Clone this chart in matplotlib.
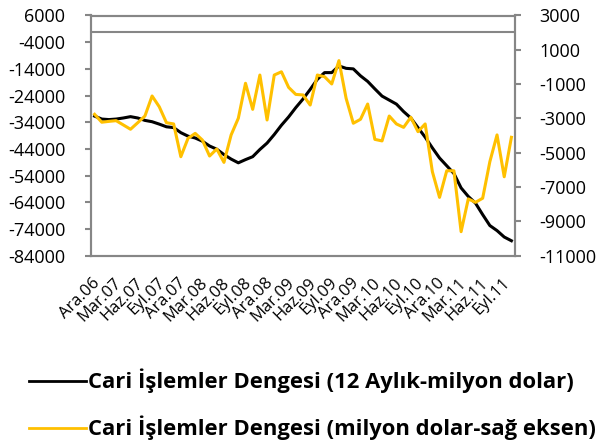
import matplotlib
matplotlib.use("Agg")
import matplotlib.pyplot as plt
from matplotlib.lines import Line2D
from matplotlib.transforms import ScaledTranslation

plt.rcParams['font.family'] = ['Open Sans', 'DejaVu Sans']

# monthly, Ara.06 .. Eki.11
months = ["Ara.06", "Oca.07", "Şub.07", "Mar.07", "Nis.07", "May.07", "Haz.07", "Tem.07",
          "Ağu.07", "Eyl.07", "Eki.07", "Kas.07", "Ara.07", "Oca.08", "Şub.08", "Mar.08",
          "Nis.08", "May.08", "Haz.08", "Tem.08", "Ağu.08", "Eyl.08", "Eki.08", "Kas.08",
          "Ara.08", "Oca.09", "Şub.09", "Mar.09", "Nis.09", "May.09", "Haz.09", "Tem.09",
          "Ağu.09", "Eyl.09", "Eki.09", "Kas.09", "Ara.09", "Oca.10", "Şub.10", "Mar.10",
          "Nis.10", "May.10", "Haz.10", "Tem.10", "Ağu.10", "Eyl.10", "Eki.10", "Kas.10",
          "Ara.10", "Oca.11", "Şub.11", "Mar.11", "Nis.11", "May.11", "Haz.11", "Tem.11",
          "Ağu.11", "Eyl.11", "Eki.11"]

# 12-month rolling current account balance (million USD, left axis)
cab_12m = [-31700, -32800, -33000, -32800, -32400, -31900, -32400, -33300, -33800, -34700,
           -35700, -36000, -37900, -39200, -39900, -41100, -42900, -44100, -46100, -47800,
           -49200, -48000, -46900, -44200, -41800, -38600, -35100, -32000, -28500, -25300,
           -21700, -17900, -15400, -15400, -12900, -13800, -14000, -16600, -18700, -21500,
           -24200, -25700, -27200, -30000, -32400, -36000, -39600, -43600, -47400, -50300,
           -53200, -58600, -61800, -64300, -68600, -72700, -74600, -77000, -78400]

# monthly current account balance (million USD, right axis)
cab_monthly = [-2760, -3220, -3170, -3130, -3380, -3630, -3250, -2860, -1690, -2320,
               -3250, -3320, -5230, -4160, -3870, -4260, -5190, -4780, -5560, -3960,
               -2990, -950, -2470, -470, -3090, -470, -280, -1190, -1600, -1630,
               -2220, -470, -570, -990, 370, -1830, -3280, -3050, -2160, -4220,
               -4310, -2860, -3320, -3520, -2930, -3770, -3320, -6100, -7600, -6050,
               -6050, -9600, -7690, -7890, -7650, -5520, -3960, -6400, -4100]

left_ticks = list(range(-84000, 6001, 10000))
right_ticks = list(range(-11000, 3001, 2000))
series_labels = ["Cari İşlemler Dengesi (12 Aylık-milyon dolar)",
                 "Cari İşlemler Dengesi (milyon dolar-sağ eksen)"]

gray = "#868686"
gold = "#FFC000"

fig = plt.figure(figsize=(5.96, 4.41), dpi=100)
ax = fig.add_axes([91 / 596, 1 - 255.7 / 441, 424 / 596, 240.2 / 441])
ax2 = ax.twinx()

x = list(range(len(months)))
ax.plot(x, cab_12m, color="black", lw=2.2, solid_joinstyle="round")
ax2.plot(x, cab_monthly, color=gold, lw=2.2, solid_joinstyle="round")

ax.axhline(0, color=gray, lw=1.5, zorder=1)

ax.set_xlim(-0.5, len(months) - 0.5)
ax.set_ylim(left_ticks[0], left_ticks[-1])
ax2.set_ylim(right_ticks[0], right_ticks[-1])
ax.set_yticks(left_ticks)
ax2.set_yticks(right_ticks)
ax.set_yticklabels([str(v) for v in left_ticks])
ax2.set_yticklabels([str(v) for v in right_ticks])

for a in (ax, ax2):
    for s in a.spines.values():
        s.set_color(gray)
        s.set_linewidth(1.5)
ax.tick_params(axis="y", direction="out", length=4.5, width=1.5, color=gray,
               labelsize=13, pad=14)
ax2.tick_params(axis="y", direction="out", length=4.5, width=1.5, color=gray,
                labelsize=13, pad=13)
ax.tick_params(axis="x", length=0, pad=20)

# quarterly labels, rotated and nudged right (after tick_params, which resets transforms)
xt = x[::3]
ax.set_xticks(xt)
ax.set_xticklabels([months[i] for i in xt], rotation=45, ha="right", va="baseline",
                   rotation_mode="anchor", fontsize=12)
shift = ScaledTranslation(6 / 100, 0, fig.dpi_scale_trans)
for t in ax.get_xticklabels():
    t.set_transform(t.get_transform() + shift)

# legend drawn below the plot
for lbl, col, y in zip(series_labels, ["black", gold], [381, 428]):
    fy = 1 - y / 441
    fig.add_artist(Line2D([29 / 596, 86 / 596], [fy, fy], color=col, lw=2,
                          transform=fig.transFigure))
    fig.text(88 / 596, fy, lbl, fontsize=15.8, fontweight="bold",
             va="center", ha="left")

fig.savefig("out.png", dpi=100)
